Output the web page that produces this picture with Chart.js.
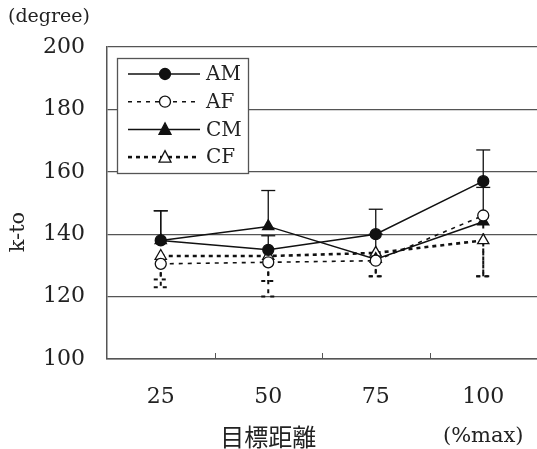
<!DOCTYPE html>
<html>
<head>
<meta charset="utf-8">
<style>
  html, body { margin: 0; padding: 0; background: #fff; }
  #wrap { position: relative; width: 537px; height: 449px; }
</style>
<script src="https://cdn.jsdelivr.net/npm/chart.js@4.4.0/dist/chart.umd.min.js"></script>
</head>
<body>
<div id="wrap"><canvas id="chart" width="537" height="449"></canvas></div>
<script>
// Chart data
const categories = ['25', '50', '75', '100'];
const amValues = [138, 135, 140, 157];
const afValues = [130.5, 131, 131.5, 146];
const cmValues = [138, 142.5, 132, 144];
const cfValues = [133, 133, 134, 138];
// one-sided error bars: males upward, females downward
const amErrUp = [9.5, 4.5, 8, 10];
const cmErrUp = [9.5, 11.5, 8, 11];
const afErrDown = [7.5, 11, 5, 19.5];
const cfErrDown = [7.5, 8, 7.5, 11.5];
const yMin = 100;
const yMax = 200;
const yStep = 20;

const SERIF = '"DejaVu Serif", "Liberation Serif", "Noto Sans CJK JP", serif';
const CJK = '"Noto Sans CJK JP", "Noto Sans CJK SC", sans-serif';
const INK = '#111';
const GRID = '#555';

const seriesStyles = [
  { label: 'AM', data: amValues, dash: [], width: 1.5, shape: 'circle', fill: INK, err: amErrUp, dir: 1 },
  { label: 'AF', data: afValues, dash: [4, 5], width: 1.6, shape: 'circle', fill: '#fff', err: afErrDown, dir: -1 },
  { label: 'CM', data: cmValues, dash: [], width: 1.5, shape: 'triangle', fill: INK, err: cmErrUp, dir: 1 },
  { label: 'CF', data: cfValues, dash: [4, 4], width: 2.6, shape: 'triangle', fill: '#fff', err: cfErrDown, dir: -1 }
];

function drawMarker(ctx, shape, x, y, fill) {
  ctx.save();
  ctx.setLineDash([]);
  ctx.lineWidth = 1.3;
  ctx.strokeStyle = INK;
  ctx.fillStyle = fill;
  ctx.beginPath();
  if (shape === 'circle') {
    ctx.arc(x, y, 5.5, 0, Math.PI * 2);
  } else {
    ctx.moveTo(x, y - 6.5);
    ctx.lineTo(x + 6, y + 5);
    ctx.lineTo(x - 6, y + 5);
    ctx.closePath();
  }
  ctx.fill();
  ctx.stroke();
  ctx.restore();
}

// error bars, inner x ticks, legend box and loose labels
const extrasPlugin = {
  id: 'extras',
  beforeDatasetsDraw(chart) {
    const ctx = chart.ctx;
    const yScale = chart.scales.y;
    seriesStyles.forEach((s, di) => {
      const meta = chart.getDatasetMeta(di);
      ctx.save();
      ctx.strokeStyle = INK;
      ctx.lineWidth = s.dir > 0 ? 1.3 : 2;
      ctx.setLineDash(s.dash);
      meta.data.forEach((pt, i) => {
        const y0 = yScale.getPixelForValue(s.data[i]);
        const y1 = yScale.getPixelForValue(s.data[i] + s.dir * s.err[i]);
        ctx.beginPath();
        ctx.moveTo(pt.x, y0);
        ctx.lineTo(pt.x, y1);
        ctx.stroke();
        ctx.beginPath();
        ctx.moveTo(pt.x - 7, y1);
        ctx.lineTo(pt.x + 7, y1);
        ctx.stroke();
      });
      ctx.restore();
    });
  },
  afterDraw(chart) {
    const ctx = chart.ctx;
    const area = chart.chartArea;
    const xScale = chart.scales.x;

    // small tick marks pointing into the plot, between categories
    ctx.save();
    ctx.strokeStyle = GRID;
    ctx.lineWidth = 1;
    for (let i = 1; i < categories.length; i++) {
      const x = Math.round((xScale.getPixelForValue(i - 1) + xScale.getPixelForValue(i)) / 2) + 0.5;
      ctx.beginPath();
      ctx.moveTo(x, area.bottom);
      ctx.lineTo(x, area.bottom - 6);
      ctx.stroke();
    }
    ctx.restore();

    // legend box
    const bx = area.left + 10, by = area.top + 11, bw = 131, bh = 115;
    ctx.save();
    ctx.fillStyle = '#fff';
    ctx.fillRect(bx, by, bw, bh);
    ctx.strokeStyle = GRID;
    ctx.lineWidth = 1.3;
    ctx.strokeRect(bx + 0.5, by + 0.5, bw, bh);
    seriesStyles.forEach((s, i) => {
      const ly = by + 16 + i * 27.7;
      ctx.save();
      ctx.strokeStyle = INK;
      ctx.lineWidth = s.width;
      ctx.setLineDash(s.dash);
      ctx.beginPath();
      ctx.moveTo(bx + 11, ly);
      ctx.lineTo(bx + 83, ly);
      ctx.stroke();
      ctx.restore();
      drawMarker(ctx, s.shape, bx + 48, ly, s.fill);
      ctx.fillStyle = '#222';
      ctx.font = '20px ' + SERIF;
      ctx.textBaseline = 'middle';
      ctx.textAlign = 'left';
      ctx.fillText(s.label, bx + 89, ly + 1);
    });
    ctx.restore();

    // loose labels
    ctx.save();
    ctx.fillStyle = '#222';
    ctx.textBaseline = 'middle';
    ctx.font = '19px ' + SERIF;
    ctx.textAlign = 'left';
    ctx.fillText('(degree)', 8, 17);
    ctx.font = '24px ' + CJK;
    ctx.textAlign = 'center';
    ctx.fillText('目標距離', xScale.getPixelForValue(1), 437);
    ctx.font = '21px ' + SERIF;
    ctx.fillText('(%max)', xScale.getPixelForValue(3), 437);
    ctx.translate(19, 232);
    ctx.rotate(-Math.PI / 2);
    ctx.fillText('k-to', 0, 0);
    ctx.restore();
  }
};

const datasets = seriesStyles.map(s => ({
  label: s.label,
  data: s.data,
  borderColor: INK,
  borderWidth: s.width,
  borderDash: s.dash,
  backgroundColor: s.fill,
  pointStyle: s.shape,
  pointRadius: s.shape === 'circle' ? 5.5 : 6.5,
  pointBorderWidth: 1.3,
  pointBorderColor: INK,
  pointBackgroundColor: s.fill,
  tension: 0,
  fill: false
}));

new Chart(document.getElementById('chart').getContext('2d'), {
  type: 'line',
  data: { labels: categories, datasets: datasets },
  options: {
    responsive: false,
    animation: false,
    devicePixelRatio: 1,
    layout: { autoPadding: false, padding: { top: 47, right: 0, bottom: 0, left: 0 } },
    plugins: {
      legend: { display: false },
      tooltip: { enabled: false }
    },
    scales: {
      x: {
        offset: true,
        grid: { display: false, drawTicks: false },
        border: { display: true, color: GRID, width: 1.5 },
        ticks: { color: '#222', font: { family: SERIF, size: 22 }, padding: 25 },
        afterFit(scale) {
          scale.height = 90;
          scale.paddingLeft = 0;
          scale.paddingRight = 0;
        }
      },
      y: {
        min: yMin,
        max: yMax,
        ticks: { stepSize: yStep, color: '#222', font: { family: SERIF, size: 22 }, padding: 22 },
        grid: { color: GRID, lineWidth: 1.3, drawTicks: false },
        border: { display: true, color: GRID, width: 1.5 },
        afterFit(scale) {
          scale.width = 107;
          scale.paddingTop = 0;
          scale.paddingBottom = 0;
        }
      }
    }
  },
  plugins: [extrasPlugin]
});
</script>
</body>
</html>
